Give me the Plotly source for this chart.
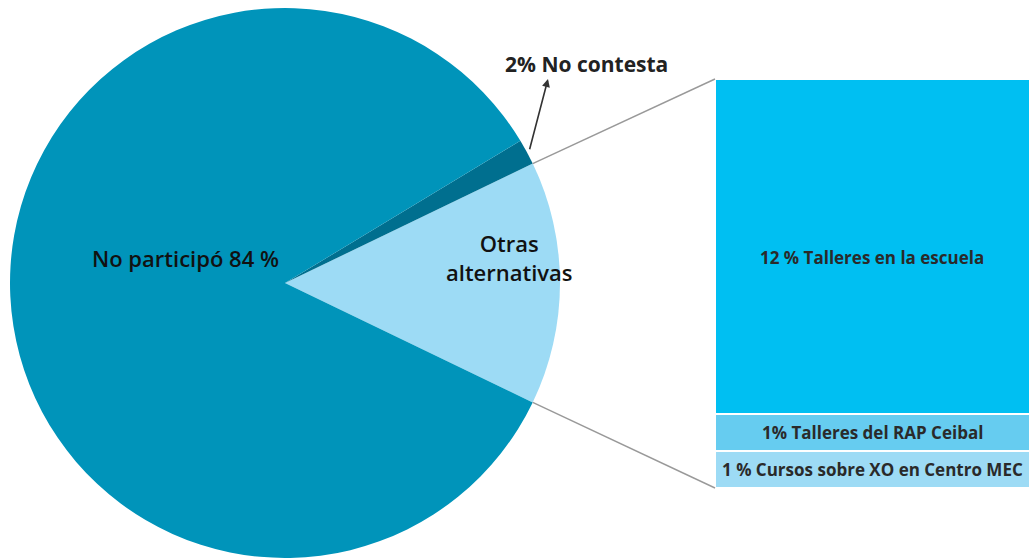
import plotly.graph_objects as go
import math

# ---------------- data ----------------
pie_labels = ["Otras alternativas", "No contesta", "No participó"]
pie_values = [14.3, 1.5, 84.2]
pie_colors = ["#9DDBF5", "#006F8F", "#0094BA"]

bar_labels = ["1 % Cursos sobre XO en Centro MEC", "1% Talleres del RAP Ceibal", "12 % Talleres en la escuela"]
bar_values = [1.3, 1.3, 11.7]
bar_colors = ["#9DDBF5", "#66CCF0", "#00BFF2"]

# ---------------- geometry helpers ----------------
W, H = 1029, 558
MT = 8
PH = H - MT

def px_x(sx):
    return sx / W

def px_y(sy):
    return (H - sy) / PH

pie_sx0, pie_sx1 = 10, 560
cx = (pie_sx0 + pie_sx1) / 2
R = PH / 2
cy = MT + R

total = sum(pie_values)
otras_deg = pie_values[0] / total * 360
rotation = 90 - otras_deg / 2

def pie_point(theta_deg, rr=R):
    t = math.radians(theta_deg)
    return cx + rr * math.cos(t), cy - rr * math.sin(t)

fig = go.Figure()

fig.add_trace(go.Pie(
    labels=pie_labels, values=pie_values, sort=False,
    direction="counterclockwise", rotation=rotation,
    marker=dict(colors=pie_colors, line=dict(width=0)),
    textinfo="none", hoverinfo="label+percent", showlegend=False,
    domain=dict(x=[px_x(pie_sx0), px_x(pie_sx1)], y=[0, 1]),
))

# stacked bar
bar_total = sum(bar_values)
bx_dom = [px_x(715), 1.0]
by_dom = [px_y(488), px_y(79)]
bx_range = [-0.5, 0.4]
for lab, v, c in zip(bar_labels, bar_values, bar_colors):
    fig.add_trace(go.Bar(
        x=[0], y=[v], width=1, name=lab,
        marker=dict(color=c, line=dict(color="white", width=2)),
        showlegend=False, hoverinfo="name",
        xaxis="x", yaxis="y",
    ))

# connector lines
up_x, up_y = pie_point(otras_deg / 2)
lo_x, lo_y = pie_point(-otras_deg / 2)

def bar_paper_x(xv):
    return bx_dom[0] + (xv - bx_range[0]) / (bx_range[1] - bx_range[0]) * (bx_dom[1] - bx_dom[0])

def bar_paper_y(yv):
    return by_dom[0] + yv / bar_total * (by_dom[1] - by_dom[0])

left_edge = bar_paper_x(-0.5)
shapes = [
    dict(type="line", xref="paper", yref="paper",
         x0=px_x(up_x), y0=px_y(up_y), x1=left_edge, y1=bar_paper_y(bar_total),
         line=dict(color="#999999", width=1.4)),
    dict(type="line", xref="paper", yref="paper",
         x0=px_x(lo_x), y0=px_y(lo_y), x1=left_edge, y1=bar_paper_y(0),
         line=dict(color="#999999", width=1.4)),
]

# arrow for "No contesta"
nc_mid = otras_deg / 2 + pie_values[1] / total * 360 / 2
tail_x, tail_y = pie_point(nc_mid, R * 1.01)
head_x, head_y = 548, 79

label_font = dict(family="Open Sans", size=22, color="#111111", weight=600)
annotations = [
    dict(x=px_x(head_x), y=px_y(head_y), xref="paper", yref="paper",
         ax=tail_x - head_x, ay=tail_y - head_y,
         text="", showarrow=True, arrowhead=2, arrowsize=1, arrowwidth=1.6,
         arrowcolor="#333333"),
    dict(x=px_x(586), y=px_y(64), xref="paper", yref="paper",
         xanchor="center", yanchor="middle",
         text="<b>2% No contesta</b>", showarrow=False,
         font=dict(family="Open Sans", size=21, color="#222222")),
    dict(x=px_x(185), y=px_y(258), xref="paper", yref="paper",
         xanchor="center", yanchor="middle",
         text="No participó 84 %", showarrow=False, font=label_font),
    dict(x=px_x(509), y=px_y(257), xref="paper", yref="paper",
         xanchor="center", yanchor="middle",
         text="Otras<br>alternativas", showarrow=False, font=label_font),
]

# bar segment labels at segment midpoints
acc = 0
bar_shift = [0, 0, -11]
for lab, v, ys in zip(bar_labels, bar_values, bar_shift):
    annotations.append(dict(
        x=sum(bx_range) / 2, y=acc + v / 2, xref="x", yref="y",
        xanchor="center", yanchor="middle", yshift=ys,
        text="<b>" + lab + "</b>", showarrow=False,
        font=dict(family="Open Sans", size=17, color="#2A2A2A"),
    ))
    acc += v

fig.update_layout(
    width=W, height=H,
    margin=dict(l=0, r=0, t=MT, b=0),
    paper_bgcolor="white", plot_bgcolor="white",
    barmode="stack", bargap=0,
    xaxis=dict(domain=bx_dom, range=bx_range, visible=False, fixedrange=True),
    yaxis=dict(domain=by_dom, range=[0, bar_total], visible=False, fixedrange=True),
    shapes=shapes, annotations=annotations,
    showlegend=False,
)

fig.write_html(
    "out.html",
    config={"displayModeBar": False},
    post_script="document.body.style.margin='0';document.body.style.overflow='hidden';",
)
